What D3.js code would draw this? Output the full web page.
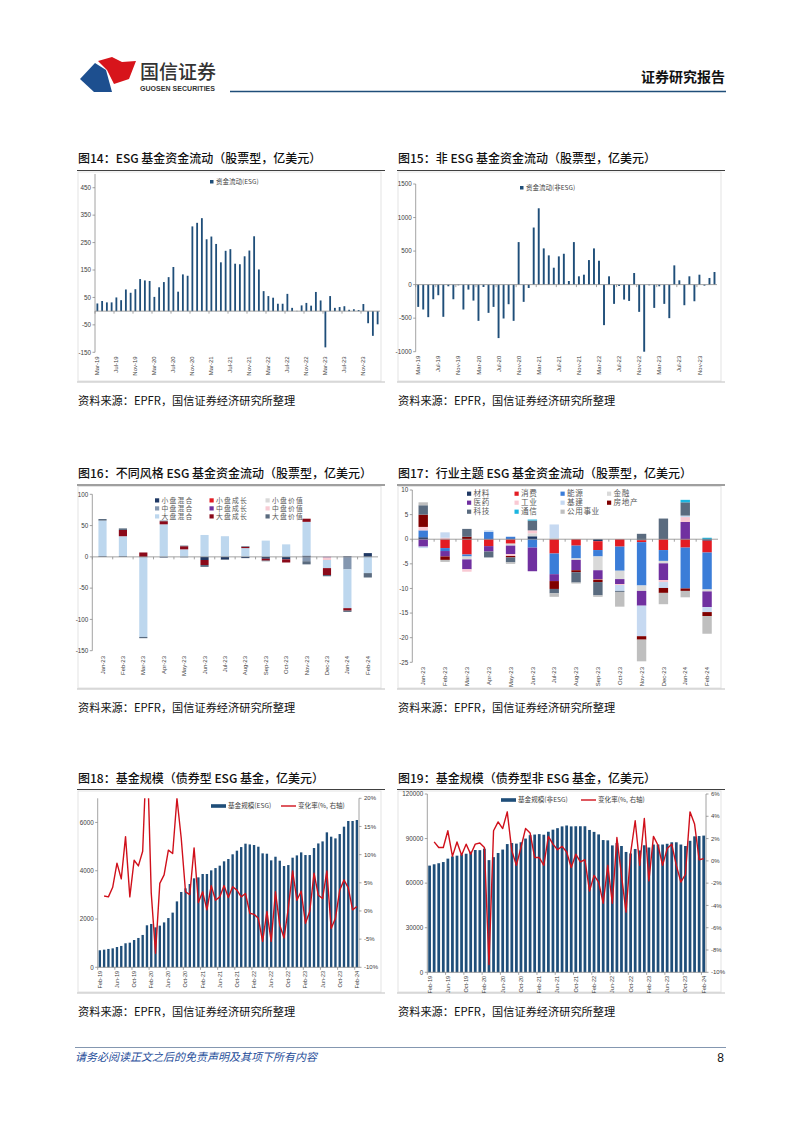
<!DOCTYPE html>
<html><head><meta charset="utf-8">
<script src="https://cdn.jsdelivr.net/npm/d3@7"></script>
<style>body{margin:0;background:#fff}svg{display:block}</style>
</head><body><svg id="pg" width="802" height="1133"></svg>
<script>
// ---------------- DATA ----------------
// Fig 14: ESG equity fund flows, Mar-19 .. Feb-24 (60 months)
const esgFlow = [28,37,32,32,50,40,79,67,80,117,112,110,52,87,106,124,161,71,134,129,309,322,339,262,272,245,178,220,226,173,171,200,221,273,152,73,55,49,27,27,63,12,1,21,30,20,70,39,-132,55,12,15,18,5,7,4,26,-44,-90,-48];
// Fig 15: non-ESG equity fund flows, Mar-19 .. Feb-24
const nonEsgFlow = [-332,-371,-485,-218,-158,-480,-25,-218,-10,-371,-74,-238,-540,-35,-421,-332,-797,-505,-292,-540,634,-257,-50,851,1138,540,436,252,421,460,54,634,124,148,366,540,356,-604,124,-287,-20,-223,-243,173,-406,-1000,-10,-347,-25,-287,-500,287,64,-307,124,-248,148,-15,99,188];
const flowTicks = ["Mar-19","Jul-19","Nov-19","Mar-20","Jul-20","Nov-20","Mar-21","Jul-21","Nov-21","Mar-22","Jul-22","Nov-22","Mar-23","Jul-23","Nov-23"];

// Fig 16: style ESG fund flows, Jan-23 .. Feb-24
const cats16 = ["Jan-23","Feb-23","Mar-23","Apr-23","May-23","Jun-23","Jul-23","Aug-23","Sep-23","Oct-23","Nov-23","Dec-23","Jan-24","Feb-24"];
const styleNames = ["小盘混合","小盘成长","小盘价值","中盘混合","中盘成长","中盘价值","大盘混合","大盘成长","大盘价值"];
const styleColors = ["#1f3864","#e31c23","#d9d9d9","#8497b0","#7030a0","#f8cbd3","#bdd7ee","#8b0a1a","#5a6b7f"];
const smallBlend  = [1,1,0,-1,0,-5,-4,-2,-3,-4,2,0,1,6];
const smallGrowth = [0,0,0,0,0,0,0,0,0,0,0,0,0,0];
const smallValue  = [0,0,0,0,0,0,0,0,0,0,0,0,0,0];
const midBlend    = [0,0,-1,0,-1,0,0,0,0,0,-7,0,-20,0];
const midGrowth   = [0,0,0,0,0,0,0,0,0,0,0,-1,0,0];
const midValue    = [0,0,0,0,0,0,0,0,0,0,0,-4,0,0];
const largeBlend  = [57,32,-127,52,12,35,33,14,26,20,54,-13,-62,-26];
const largeGrowth = [0,10,7,5,5,-8,0,2,-3,-5,5,-11,-4,0];
const largeValue  = [2.5,2.5,-2,1,1,-3,-1,1,-1,0,-5,-2,-2,-7];

// Fig 17: sector-theme ESG fund flows, Jan-23 .. Feb-24
const sectorNames = ["材料","消费","能源","金融","医药","工业","基建","房地产","科技","通信","公用事业"];
const sectorColors = ["#1f3864","#e31c23","#3b7dd8","#d9d9d9","#7030a0","#f9c9d3","#c6d9f1","#800000","#5a6b7f","#1cb5e0","#bfbfbf"];
const materials  = [0.4,0,0,0,0,0.6,0,0,-0.4,0,-0.2,0,0,-0.3];
const consumer   = [0,-1.8,-3.1,-1.4,-0.9,0,-2.9,-1.3,-1.8,-1.5,-0.4,-2.2,-1.7,-2.4];
const energy     = [1.4,-0.6,-0.4,1.5,0.5,-1.7,-4.2,-2.6,-1.3,-4.9,-8.8,-2.2,-8.3,-7.5];
const financials = [0,0,-0.6,0,-0.4,0.6,0.2,-0.3,-2.8,-1.7,-1.1,-0.5,0,-0.4];
const healthcare = [-1.5,-1.1,-2.0,-1.1,-1.7,-4.8,-1.4,-2.1,-1.8,-1.0,-3.0,-3.4,3.5,-3.2];
const industrial = [0.7,0.3,-0.5,0,-0.4,0.6,0,0,-0.1,-0.2,0,-0.4,1.0,0];
const infra      = [-0.3,1.1,0,0.3,0,0,2.8,0,0,-1.2,-6.2,-1.2,0.3,-1.0];
const realEstate = [2.5,-0.7,0.5,0,-0.3,0,-1.6,-0.4,-0.5,0,-0.7,-1.0,-0.5,-0.8];
const tech       = [1.9,0,1.6,-1.2,-1.0,2.0,-0.9,-2.1,-2.7,-0.2,1.1,4.2,2.7,0];
const telecom    = [0,0,0,0,0,0.2,0,0,0,0,0,0,0.5,0.3];
const utilities  = [0.6,-0.4,0,0,-0.3,0,-0.7,-0.2,-0.3,-3.0,-4.4,-2.3,-1.3,-3.6];

// Fig 18: ESG bond fund AUM (Feb-19 .. Feb-24, 61 months) and monthly change (%)
const esgBondAum = [705,730,760,785,840,885,995,1020,1130,1215,1340,1740,1795,1655,1725,1860,2040,2265,2730,3120,3270,3450,3685,3725,3865,3865,4015,4110,4210,4390,4485,4680,4830,4980,5120,5090,5065,4995,4720,4705,4430,4580,4415,4195,4235,4540,4635,4760,4650,4650,4940,5130,5215,5590,5410,5340,5520,5825,6060,6060,6100];
const esgBondChg = [null,2.65,2.5,4.2,8.5,5.7,13.2,2.5,9.0,8.0,10.6,30,3.2,-7.5,4.9,6.4,10.8,10.2,20,12.9,3.4,2.9,11.2,1.5,3.4,0.2,4.5,1.9,2.5,4.5,2.4,4.3,3.7,2.5,3.1,-0.4,-0.6,-1.3,-5.4,-0.1,-5.4,3.4,-2.5,-4.8,0.5,7.1,1.9,3.5,-2.2,-0.1,6.7,2.8,2.2,7.1,-3.1,-1.3,3.7,5.5,4.1,0.2,0.8];
// Fig 19: non-ESG bond fund AUM and monthly change (%)
const nonEsgBondAum = [71800,72700,73400,74200,76500,78000,78500,79400,79800,81200,82300,82200,83200,75500,77500,80300,82600,86300,87000,86600,87500,90000,92300,92700,93000,92600,94600,96000,97000,98200,98800,98200,98300,98300,98300,95800,94500,92800,89000,88800,85400,87000,85000,81000,80000,83000,82000,85500,84000,86000,86000,86000,86500,87500,87500,86000,85000,88500,91500,91700,92000];
const nonEsgBondChg = [null,1.7,1.2,1.2,2.7,0.4,1.7,0.5,1.5,0.6,1.5,1.6,1.2,-9.3,2.7,3.5,2.9,4.4,0.9,-0.4,1.2,2.9,2.5,0.3,0.3,-0.4,2.2,1.5,1.0,1.3,0.8,-0.6,0.6,-0.1,0.1,-2.7,-1.3,-1.9,-3.8,-0.4,-3.8,2.1,-1.3,-4.6,0.7,3.6,-0.4,3.8,-1.8,2.2,1.4,-0.4,1.1,1.5,-0.4,-1.9,-1.2,4.4,3.3,0.1,0.2];
const bondTicks = ["Feb-19","Jun-19","Oct-19","Feb-20","Jun-20","Oct-20","Feb-21","Jun-21","Oct-21","Feb-22","Jun-22","Oct-22","Feb-23","Jun-23","Oct-23","Feb-24"];

// ---------------- HELPERS ----------------
const fmtM = d3.timeFormat("%b-%y");
const monthsFrom = (y, m, n) => d3.range(n).map(i => fmtM(new Date(y, m + i, 1)));
const flowMonths = monthsFrom(2019, 2, 60);
const bondMonths = monthsFrom(2019, 1, 61);

const CJK = '"Noto Sans CJK SC","Noto Sans",sans-serif';
const LAT = '"Liberation Sans",Arial,sans-serif';
const AX = "#8c8c8c", TXT = "#404040";

const svg = d3.select("#pg");
svg.append("rect").attr("width", 802).attr("height", 1133).attr("fill", "#fff");

// Header
const hdr = svg.append("g");
hdr.append("path").attr("d", "M80,79 L95,63 L106,70 L112,92 L94,92 Z").attr("fill", "#1d4f8f");
hdr.append("path").attr("d", "M98,61 L112,57 L122,62 L136,61 L129,79 L114,84 L107,70 Z").attr("fill", "#d7141b");
hdr.append("text").attr("x", 140).attr("y", 79).attr("font-family", CJK).attr("font-size", 19).attr("font-weight", 500).attr("fill", "#333").text("国信证券");
hdr.append("text").attr("x", 140).attr("y", 91).attr("font-family", LAT).attr("font-size", 7).attr("font-weight", "bold").attr("fill", "#333").attr("textLength", 75).text("GUOSEN SECURITIES");
hdr.append("text").attr("x", 725).attr("y", 82).attr("text-anchor", "end").attr("font-family", CJK).attr("font-size", 14).attr("font-weight", "bold").attr("fill", "#111").text("证券研究报告");
hdr.append("line").attr("x1", 230).attr("x2", 726).attr("y1", 91.5).attr("y2", 91.5).attr("stroke", "#1f4e79").attr("stroke-width", 1.6);

// Footer
svg.append("line").attr("x1", 75).attr("x2", 726).attr("y1", 1047.5).attr("y2", 1047.5).attr("stroke", "#8497b0").attr("stroke-width", 1);
svg.append("text").attr("x", 75).attr("y", 1061).attr("font-family", CJK).attr("font-size", 11).attr("font-style", "italic").attr("fill", "#1f4e9a").text("请务必阅读正文之后的免责声明及其项下所有内容");
svg.append("text").attr("x", 724).attr("y", 1062).attr("text-anchor", "end").attr("font-family", LAT).attr("font-size", 12).attr("fill", "#111").text("8");

// Panel frame, title, source
function panel(x0, x1, titleY, lineY, bottomY, title) {
  svg.append("text").attr("x", x0 + 1).attr("y", titleY).attr("font-family", CJK).attr("font-size", 12).attr("font-weight", 500).attr("fill", "#111").text(title);
  svg.append("line").attr("x1", x0).attr("x2", x1).attr("y1", lineY).attr("y2", lineY).attr("stroke", "#404040").attr("stroke-width", 1.2);
  svg.append("rect").attr("x", x0 + 1).attr("y", lineY + 1.5).attr("width", x1 - x0 - 5).attr("height", bottomY - lineY - 1.5)
    .attr("fill", "none").attr("stroke", "#e3e3e3").attr("stroke-width", 1);
  svg.append("line").attr("x1", x0).attr("x2", x1).attr("y1", bottomY + 1).attr("y2", bottomY + 1).attr("stroke", "#bfbfbf").attr("stroke-width", 1);
  svg.append("text").attr("x", x0 + 1).attr("y", bottomY + 24).attr("font-family", CJK).attr("font-size", 11.2).attr("fill", "#111").text("资料来源：EPFR，国信证券经济研究所整理");
}

function yAxisLeft(g, x, y, ticks, fmt, y0, y1) {
  g.append("line").attr("x1", x).attr("x2", x).attr("y1", y0).attr("y2", y1).attr("stroke", AX).attr("stroke-width", 0.8);
  ticks.forEach(t => {
    g.append("line").attr("x1", x - 2.5).attr("x2", x).attr("y1", y(t)).attr("y2", y(t)).attr("stroke", AX).attr("stroke-width", 0.8);
    g.append("text").attr("x", x - 4).attr("y", y(t)).attr("dy", "0.35em").attr("text-anchor", "end")
      .attr("font-family", LAT).attr("font-size", 6.3).attr("fill", TXT).text(fmt(t));
  });
}
function yAxisRight(g, x, y, ticks, fmt, y0, y1) {
  g.append("line").attr("x1", x).attr("x2", x).attr("y1", y0).attr("y2", y1).attr("stroke", AX).attr("stroke-width", 0.8);
  ticks.forEach(t => {
    g.append("line").attr("x1", x).attr("x2", x + 2.5).attr("y1", y(t)).attr("y2", y(t)).attr("stroke", AX).attr("stroke-width", 0.8);
    g.append("text").attr("x", x + 5).attr("y", y(t)).attr("dy", "0.35em").attr("text-anchor", "start")
      .attr("font-family", LAT).attr("font-size", 6).attr("fill", TXT).text(fmt(t));
  });
}
function xAxis(g, x, cats, shown, axisY, labelY, fs) {
  const x0 = x.range()[0], x1 = x.range()[1];
  g.append("line").attr("x1", x0).attr("x2", x1).attr("y1", axisY).attr("y2", axisY).attr("stroke", AX).attr("stroke-width", 0.8);
  cats.forEach(c => {
    if (!shown.includes(c)) return;
    const bx = x(c);
    g.append("line").attr("x1", bx).attr("x2", bx).attr("y1", axisY).attr("y2", axisY + 2.5).attr("stroke", AX).attr("stroke-width", 0.8);
    const cx = bx + x.bandwidth() / 2;
    g.append("text").attr("transform", `translate(${cx},${labelY}) rotate(-90)`).attr("text-anchor", "end").attr("dy", "0.35em")
      .attr("font-family", LAT).attr("font-size", fs).attr("fill", TXT).text(c);
  });
}

// ---------------- FIG 14 & 15 ----------------
function flowChart(o) {
  const g = svg.append("g");
  const y = d3.scaleLinear().domain(o.domain).range([o.yBot, o.yTop]);
  const x = d3.scaleBand().domain(flowMonths).range([o.x0, o.x1]);
  yAxisLeft(g, o.x0, y, o.ticks, d => d, o.yTop, o.yBot);
  const bw = x.bandwidth() * 0.38;
  g.selectAll("rect.b").data(o.vals).join("rect")
    .attr("x", (d, i) => x(flowMonths[i]) + (x.bandwidth() - bw) / 2)
    .attr("y", d => y(Math.max(0, d))).attr("width", bw)
    .attr("height", d => Math.abs(y(d) - y(0))).attr("fill", "#1f4e79");
  xAxis(g, x, flowMonths, flowTicks, y(0), o.yBot + 4, 6);
  // legend
  g.append("rect").attr("x", o.legX).attr("y", o.legY - 2).attr("width", 3.5).attr("height", 3.5).attr("fill", "#1f4e79");
  g.append("text").attr("x", o.legX + 6).attr("y", o.legY).attr("dy", "0.3em").attr("font-family", CJK).attr("font-size", 6.5).attr("fill", TXT).text(o.legend);
}

panel(77, 385, 163, 170.5, 381, "图14：ESG 基金资金流动（股票型，亿美元）");
flowChart({x0: 95, x1: 380, yTop: 174, yBot: 352.3, domain: [-150, 500], ticks: [-150, -50, 50, 150, 250, 350, 450],
  vals: esgFlow, legX: 210, legY: 182, legend: "资金流动(ESG)"});

panel(397, 725, 163, 170.5, 381, "图15：非 ESG 基金资金流动（股票型，亿美元）");
flowChart({x0: 415.7, x1: 717, yTop: 184, yBot: 351.7, domain: [-1000, 1500], ticks: [-1000, -500, 0, 500, 1000, 1500],
  vals: nonEsgFlow, legX: 520, legY: 188, legend: "资金流动(非ESG)"});

// ---------------- FIG 16 & 17 ----------------
function stackChart(o) {
  const g = svg.append("g");
  const y = d3.scaleLinear().domain(o.domain).range([o.yBot, o.yTop]);
  const x = d3.scaleBand().domain(o.cats).range([o.x0, o.x1]);
  yAxisLeft(g, o.x0, y, o.ticks, d => d, o.yTop, o.yBot);
  const rows = o.cats.map((c, i) => { const r = {cat: c}; o.names.forEach((n, k) => r[n] = o.series[k][i]); return r; });
  const stack = d3.stack().keys(o.names).offset(d3.stackOffsetDiverging)(rows);
  const bw = x.bandwidth() * o.barFrac;
  stack.forEach((layer, k) => {
    g.selectAll(null).data(layer).join("rect")
      .attr("x", d => x(d.data.cat) + (x.bandwidth() - bw) / 2).attr("width", bw)
      .attr("y", d => y(Math.max(d[0], d[1]))).attr("height", d => Math.abs(y(d[0]) - y(d[1])))
      .attr("fill", o.colors[k]);
  });
  // zero axis
  g.append("line").attr("x1", o.x0).attr("x2", o.x1).attr("y1", y(0)).attr("y2", y(0)).attr("stroke", AX).attr("stroke-width", 0.8);
  o.cats.forEach(c => g.append("line").attr("x1", x(c)).attr("x2", x(c)).attr("y1", y(0)).attr("y2", y(0) + 2.5).attr("stroke", AX).attr("stroke-width", 0.8));
  o.cats.forEach(c => g.append("text").attr("transform", `translate(${x(c) + x.bandwidth() / 2},${o.labelY}) rotate(-90)`)
    .attr("text-anchor", "end").attr("dy", "0.35em").attr("font-family", LAT).attr("font-size", 6).attr("fill", TXT).text(c));
  // legend
  o.names.forEach((n, k) => {
    const col = k % o.legCols, row = Math.floor(k / o.legCols);
    const lx = o.legXs[col], ly = o.legYs[row];
    g.append("rect").attr("x", lx).attr("y", ly - 2.1).attr("width", 4.2).attr("height", 4.2).attr("fill", o.colors[k]);
    g.append("text").attr("x", lx + 6.5).attr("y", ly).attr("dy", "0.35em").attr("font-family", CJK).attr("font-size", o.legFs)
      .attr("letter-spacing", o.legLs).attr("fill", "#595959").text(n);
  });
}

panel(77, 385, 478, 485, 688, "图16：不同风格 ESG 基金资金流动（股票型，亿美元）");
stackChart({x0: 92.3, x1: 378, yTop: 494.3, yBot: 650.7, domain: [-150, 100], ticks: [-150, -100, -50, 0, 50, 100],
  cats: cats16, names: styleNames, colors: styleColors,
  series: [smallBlend, smallGrowth, smallValue, midBlend, midGrowth, midValue, largeBlend, largeGrowth, largeValue],
  barFrac: 0.4, labelY: 656, legCols: 3, legXs: [155, 209.5, 265.5], legYs: [500.4, 508.4, 516.4], legFs: 6.8, legLs: 1.2});

panel(397, 725, 478, 485, 688, "图17：行业主题 ESG 基金资金流动（股票型，亿美元）");
stackChart({x0: 412.3, x1: 718, yTop: 490, yBot: 662.3, domain: [-25, 10], ticks: [-25, -20, -15, -10, -5, 0, 5, 10],
  cats: cats16, names: sectorNames, colors: sectorColors,
  series: [materials, consumer, energy, financials, healthcare, industrial, infra, realEstate, tech, telecom, utilities],
  barFrac: 0.43, labelY: 667, legCols: 4, legXs: [467, 514.5, 560.5, 607], legYs: [493.7, 502.7, 511.7], legFs: 7.6, legLs: 0.6});

// ---------------- FIG 18 & 19 ----------------
function comboChart(o) {
  const g = svg.append("g");
  const y = d3.scaleLinear().domain(o.domain).range([o.yBot, o.yTop]);
  const yr = d3.scaleLinear().domain(o.rdomain).range([o.yBot, o.yTop]);
  const x = d3.scaleBand().domain(bondMonths).range([o.x0, o.x1]);
  yAxisLeft(g, o.x0, y, o.ticks, d => d, o.yTop, o.yBot);
  yAxisRight(g, o.x1, yr, o.rticks, d => d + "%", o.yTop, o.yBot);
  const bw = x.bandwidth() * o.barFrac;
  g.selectAll(null).data(o.bars).join("rect")
    .attr("x", (d, i) => x(bondMonths[i]) + (x.bandwidth() - bw) / 2).attr("width", bw)
    .attr("y", d => y(d)).attr("height", d => y(0) - y(d)).attr("fill", "#1f4e79");
  xAxis(g, x, bondMonths, bondTicks, o.yBot, o.yBot + 3.5, 5.6);
  const cid = "clip" + o.id;
  svg.append("clipPath").attr("id", cid).append("rect").attr("x", o.x0).attr("y", o.yTop).attr("width", o.x1 - o.x0).attr("height", o.yBot - o.yTop);
  const line = d3.line().defined(d => d != null).x((d, i) => x(bondMonths[i]) + x.bandwidth() / 2).y(d => yr(d));
  g.append("path").attr("d", line(o.chg)).attr("fill", "none").attr("stroke", "#d0101b").attr("stroke-width", 1.4)
    .attr("stroke-linejoin", "round").attr("clip-path", `url(#${cid})`);
  // legend
  g.append("rect").attr("x", o.leg1).attr("y", o.legY - 1.8).attr("width", 15).attr("height", 3.6).attr("fill", "#1f4e79");
  g.append("text").attr("x", o.leg1 + 17).attr("y", o.legY).attr("dy", "0.35em").attr("font-family", CJK).attr("font-size", 6.6).attr("fill", TXT).text(o.name1);
  g.append("line").attr("x1", o.leg2).attr("x2", o.leg2 + 15).attr("y1", o.legY).attr("y2", o.legY).attr("stroke", "#d0101b").attr("stroke-width", 1.4);
  g.append("text").attr("x", o.leg2 + 17).attr("y", o.legY).attr("dy", "0.35em").attr("font-family", CJK).attr("font-size", 6.6).attr("fill", TXT).text("变化率(%, 右轴)");
}

panel(77, 385, 783, 789.5, 992, "图18：基金规模（债券型 ESG 基金，亿美元）");
comboChart({id: 18, x0: 97.7, x1: 359, yTop: 798.3, yBot: 967.3, domain: [0, 7000], ticks: [0, 2000, 4000, 6000],
  rdomain: [-10, 20], rticks: [-10, -5, 0, 5, 10, 15, 20], bars: esgBondAum, chg: esgBondChg, barFrac: 0.55,
  leg1: 211, leg2: 281, legY: 806, name1: "基金规模(ESG)"});

panel(397, 725, 783, 789.5, 992, "图19：基金规模（债券型非 ESG 基金，亿美元）");
comboChart({id: 19, x0: 427.3, x1: 706, yTop: 794, yBot: 972.3, domain: [0, 120000], ticks: [0, 30000, 60000, 90000, 120000],
  rdomain: [-10, 6], rticks: [-10, -8, -6, -4, -2, 0, 2, 4, 6], bars: nonEsgBondAum, chg: nonEsgBondChg, barFrac: 0.6,
  leg1: 501, leg2: 581, legY: 800, name1: "基金规模(非ESG)"});
</script></body></html>
